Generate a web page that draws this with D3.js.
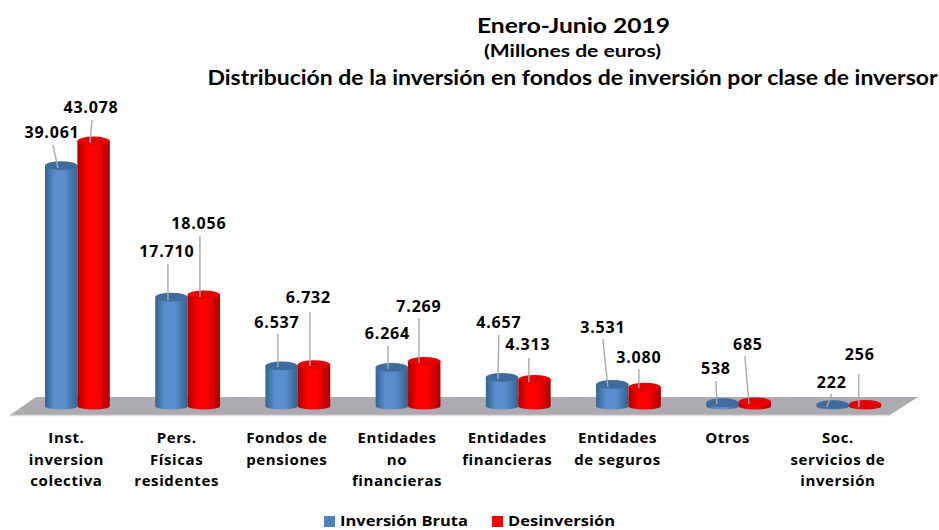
<!DOCTYPE html>
<html><head><meta charset="utf-8">
<script src="https://cdn.jsdelivr.net/npm/d3@7/dist/d3.min.js"></script>
<style>html,body{margin:0;padding:0;background:#fff}svg{display:block}text{font-family:"Open Sans",sans-serif;font-weight:700;fill:#000}.t{font-family:Lato,sans-serif}</style>
</head><body><div id="chart"></div>
<script>
const categories = [
  ["Inst.","inversion","colectiva"],
  ["Pers.","Físicas","residentes"],
  ["Fondos de","pensiones"],
  ["Entidades","no","financieras"],
  ["Entidades","financieras"],
  ["Entidades","de seguros"],
  ["Otros"],
  ["Soc.","servicios de","inversión"]
];
const inversionBruta = [39061,17710,6537,6264,4657,3531,538,222];
const desinversion   = [43078,18056,6732,7269,4313,3080,685,256];
const seriesNames = ["Inversión Bruta","Desinversión"];
const titles = ["Enero-Junio 2019","(Millones de euros)","Distribución de la inversión en fondos de inversión por clase de inversor"];
// hand-placed offsets from each bar's top centre:
// [label dx, label dy, leader start dx, dy, leader end dx, dy]
const brutaLabelLayout = [
  [-9.2,-33.7,-8.2,-20.7,-3.2,2.3],[-4.5,-46.1,-3.5,-33.1,-3.5,2.9],[-4.7,-43.8,-3.7,-31.8,-3.7,1.2],[-4.4,-34.5,-3.9,-21.5,-3.9,1.5],
  [-3.2,-55.4,-3.2,-42.4,-4.2,1.6],[-9.4,-57.3,-9.4,-45.3,-4.4,2.7],[-6.6,-34.7,-6.6,-21.7,-5.6,1.3],[-0.9,-22.6,-0.9,-10.6,-5.9,2.4]];
const desinvLabelLayout = [
  [-2.6,-34,-1.6,-21,-3.6,2],[-4.9,-71.9,-3.9,-58.9,-3.9,2.1],[-5.6,-67.6,-4.1,-52.6,-4.1,1.4],[-5.3,-55.3,-5.3,-43.3,-5.3,1.7],
  [-6.6,-35.5,-5.6,-21.5,-5.6,2.5],[-5.8,-30.1,-5.8,-18.1,-5.8,0.9],[-7,-57.8,-10,-45.8,-6,2.2],[-5.3,-50.4,-6.3,-30.4,-6.3,2.6]];

const W = 939, H = 530;
const svg = d3.select("#chart").append("svg").attr("width",W).attr("height",H);
const y0 = 406, rx = 16.2, ry = 4.4;
const x = d3.scaleBand().domain(d3.range(categories.length)).range([22.3,904]);
const y = d3.scaleLinear().domain([0,43078]).range([y0,141]);
const colors = [{e:"#34628f",m:"#5a8fcf",t:"#3f6c9f"},{e:"#a80000",m:"#ff0000",t:"#e60000"}];

const defs = svg.append("defs");
colors.forEach((c,i)=>{
  const g = defs.append("linearGradient").attr("id","g"+i);
  [[0,c.e],[.3,c.m],[.6,c.m],[1,c.e]].forEach(s=>g.append("stop").attr("offset",s[0]).attr("stop-color",s[1]));
});

// floor
svg.append("path").attr("d","M10,415L36,397L918,397L890,415Z").attr("fill","#aeaab1");
svg.append("path").attr("d","M10,415.5L890,415.5").attr("stroke","#dcdcdf").attr("stroke-width",1.5);

const series = [inversionBruta,desinversion];
const layouts = [brutaLabelLayout,desinvLabelLayout];
const centre = (s,i)=>x(i)+x.bandwidth()/2+(s===0?-rx:rx);
[0,1].forEach(s=>{
  series[s].forEach((v,i)=>{
    const cx = centre(s,i), top = y(v);
    const g = svg.append("g");
    g.append("path").attr("d",`M${cx-rx},${top}L${cx-rx},${y0}A${rx},3.6 0 0 0 ${cx+rx},${y0}L${cx+rx},${top}Z`).attr("fill",`url(#g${s})`);
    g.append("ellipse").attr("cx",cx).attr("cy",top).attr("rx",rx).attr("ry",ry).attr("fill",colors[s].t);
  });
});
// leaders and labels on top
const fmt = d3.format(",");
[0,1].forEach(s=>{
  series[s].forEach((v,i)=>{
    const cx = centre(s,i), top = y(v), L = layouts[s][i];
    svg.append("line").attr("x1",cx+L[2]).attr("y1",top+L[3]).attr("x2",cx+L[4]).attr("y2",top+L[5]).attr("stroke","#a9a9a9").attr("stroke-width",1.4);
    svg.append("text").attr("x",cx+L[0]).attr("y",top+L[1]).attr("text-anchor","middle").attr("dominant-baseline","central")
      .attr("font-size",16).attr("letter-spacing",0.8).text(fmt(v).replace(/,/g,"."));
  });
});
// category labels
categories.forEach((lines,i)=>{
  lines.forEach((t,j)=>{
    svg.append("text").attr("x",x(i)+x.bandwidth()/2-11).attr("y",437+j*21.7).attr("text-anchor","middle").attr("dominant-baseline","central")
      .attr("font-size",15).attr("letter-spacing",0.6).text(t);
  });
});
// titles
[[573.5,24,21,193],[572.5,51,16.5,177],[572.5,76,21,730]].forEach((p,i)=>{
  svg.append("text").attr("class","t").attr("x",p[0]).attr("y",p[1]).attr("text-anchor","middle").attr("dominant-baseline","central")
    .attr("font-size",p[2]).attr("textLength",p[3]).attr("lengthAdjust","spacingAndGlyphs").text(titles[i]);
});
// legend
[[324,340,128],[492,508,107]].forEach((p,i)=>{
  svg.append("rect").attr("x",p[0]).attr("y",516).attr("width",11).attr("height",11).attr("fill",i?"#ff0000":"#4f81bd");
  svg.append("text").attr("x",p[1]).attr("y",520.5).attr("dominant-baseline","central").attr("font-size",13.5)
    .attr("textLength",p[2]).attr("lengthAdjust","spacingAndGlyphs").text(seriesNames[i]);
});
</script></body></html>
